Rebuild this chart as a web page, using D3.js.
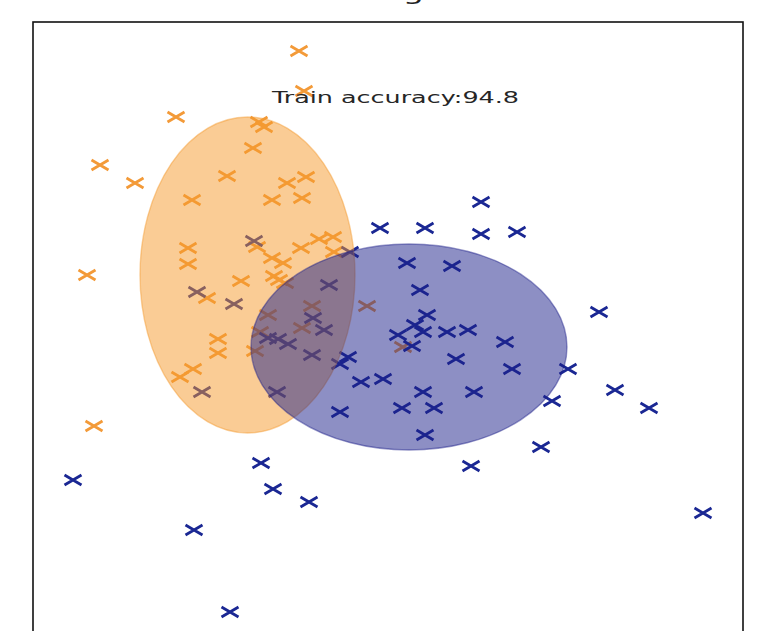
<!DOCTYPE html>
<html>
<head>
<meta charset="utf-8">
<script src="https://cdn.jsdelivr.net/npm/d3@7"></script>
<style>
  body { margin: 0; background: #fff; }
  svg { display: block; font-family: "DejaVu Sans", sans-serif; }
</style>
</head>
<body>
<svg id="chart"></svg>
<script>
// class 0 (orange) test points, x / y
const orangeX = [26.6, 27.1, 14.3, 22.6, 23.1, 22.0, 6.7, 10.2, 19.4, 25.4, 27.3, 15.9, 23.9, 26.9,
  15.5, 15.5, 22.4, 23.9, 25.0, 26.8, 28.6, 30.0, 30.1, 20.8, 24.1, 24.6, 25.2, 17.4, 5.4, 6.1,
  18.5, 18.5, 16.0, 14.7, 27.9, 23.5, 26.9, 22.7, 22.2, 33.4, 37.0];
const orangeY = [61.1, 57.1, 54.5, 54.0, 53.5, 51.4, 49.7, 47.9, 48.6, 47.9, 48.5, 46.2, 46.2, 46.4,
  41.4, 39.8, 41.5, 40.4, 39.9, 41.4, 42.3, 42.5, 41.0, 38.1, 38.6, 38.2, 37.9, 36.4, 38.7, 23.6,
  32.3, 30.9, 29.3, 28.5, 35.6, 34.7, 33.4, 33.0, 31.1, 35.6, 31.5];

// class 1 (navy) test points, x / y
const navyX = [44.8, 34.7, 39.2, 44.8, 48.4, 31.7, 37.4, 41.9, 38.7, 39.4, 38.2, 36.5, 39.0, 41.4,
  43.5, 47.2, 37.9, 56.6, 31.5, 30.7, 42.3, 47.9, 53.5, 32.8, 35.0, 39.0, 44.1, 51.9, 30.7, 36.9,
  40.1, 39.2, 50.8, 43.8, 58.2, 61.6, 67.0, 22.8, 4.0, 24.0, 27.6, 16.1, 19.7,
  22.1, 16.4, 20.1, 29.6, 28.0, 29.1, 23.5, 24.5, 25.5, 27.9, 16.9, 24.4];
const navyY = [46.0, 43.4, 43.4, 42.8, 43.0, 41.0, 39.9, 39.6, 37.2, 34.7, 33.7, 32.7, 33.0, 33.0,
  33.2, 32.0, 31.6, 35.0, 30.5, 29.8, 30.3, 29.3, 29.3, 28.0, 28.3, 27.0, 27.0, 26.1, 25.0, 25.4,
  25.4, 22.7, 21.5, 19.6, 27.2, 25.4, 14.9, 19.9, 18.2, 17.3, 16.0, 13.2, 5.0,
  42.1, 37.0, 35.8, 37.7, 34.4, 33.2, 32.4, 32.3, 31.8, 30.7, 27.0, 27.0];

// fitted gaussians (diag covariance): mean and half-axes
const classNames = ["orange", "navy"];
const classColors = ["#f39a38", "#1a2793"];
const ellipseFills = ["#f59a2c", "#1c1f8a"];
const meanX = [21.45, 37.6];
const meanY = [38.7, 31.5];
const halfW = [10.75, 15.8];
const halfH = [15.8, 10.3];

const titleText = "diag";
const accText = "Train accuracy:94.8";

class GmmChart {
  margin = { top: 22, right: 21, bottom: 0, left: 33 };
  constructor(svg, width = 764, height = 631) {
    this.svg = d3.select(svg);
    this.width = width;
    this.height = height;
  }
  initialize() {
    this.svg.attr("width", this.width).attr("height", this.height);
    // 축 영역은 아래로 잘려 있음
    this.xScale = d3.scaleLinear().domain([0, 71]).range([this.margin.left, this.width - this.margin.right]);
    this.yScale = d3.scaleLinear().domain([0, 64]).range([662, this.margin.top]);
    this.container = this.svg.append("g");
  }
  update() {
    const x = this.xScale, y = this.yScale;
    const points = [
      ...orangeX.map((v, i) => ({ x: v, y: orangeY[i], c: 0 })),
      ...navyX.map((v, i) => ({ x: v, y: navyY[i], c: 1 })),
    ];
    // x 마커
    const hw = 8.5, hh = 5;
    this.container.selectAll("path.pt")
      .data(points)
      .join("path")
      .attr("class", "pt")
      .attr("d", d => {
        const px = x(d.x), py = y(d.y);
        return `M${px - hw},${py - hh}L${px + hw},${py + hh}M${px - hw},${py + hh}L${px + hw},${py - hh}`;
      })
      .attr("stroke", d => classColors[d.c])
      .attr("stroke-width", 2.8)
      .attr("fill", "none");

    // 타원 (점 위에 그림)
    this.container.selectAll("ellipse")
      .data(classNames.map((n, i) => ({ n, i })))
      .join("ellipse")
      .attr("cx", d => x(meanX[d.i]))
      .attr("cy", d => y(meanY[d.i]))
      .attr("rx", d => x(meanX[d.i] + halfW[d.i]) - x(meanX[d.i]))
      .attr("ry", d => y(meanY[d.i] - halfH[d.i]) - y(meanY[d.i]))
      .attr("fill", d => ellipseFills[d.i])
      .attr("fill-opacity", 0.5)
      .attr("stroke", d => ellipseFills[d.i])
      .attr("stroke-opacity", 0.45)
      .attr("stroke-width", 1.4);

    // frame
    const [x0, x1] = x.range();
    this.svg.append("rect")
      .attr("x", x0).attr("y", y(64))
      .attr("width", x1 - x0).attr("height", y(0) - y(64))
      .attr("fill", "none").attr("stroke", "#111").attr("stroke-width", 1.6);

    // 제목은 위로 잘려 있음
    this.svg.append("text")
      .attr("x", (x0 + x1) / 2).attr("y", 0)
      .attr("text-anchor", "middle")
      .attr("font-size", 22)
      .attr("fill", "#222")
      .attr("textLength", 72).attr("lengthAdjust", "spacingAndGlyphs")
      .text(titleText);

    this.svg.append("text")
      .attr("x", 272).attr("y", 103)
      .attr("font-size", 16.5)
      .attr("fill", "#262626")
      .attr("textLength", 247).attr("lengthAdjust", "spacingAndGlyphs")
      .text(accText);
  }
}

const chart = new GmmChart("#chart");
chart.initialize();
chart.update();
</script>
</body>
</html>
